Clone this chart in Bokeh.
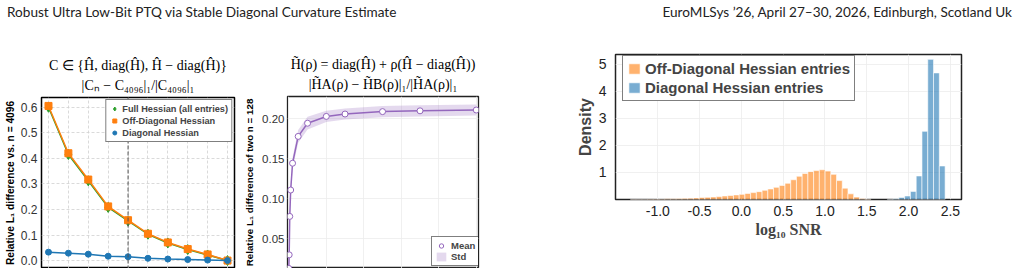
import numpy as np
from bokeh.plotting import figure
from bokeh.models import (Div, Spacer, Range1d, FixedTicker, PrintfTickFormatter,
                          Legend, LegendItem, Title, Span)
from bokeh.layouts import column, row
from bokeh.embed import file_html
from bokeh.resources import INLINE

# ---------------- page header ----------------
HEADER_LEFT = "Robust Ultra Low-Bit PTQ via Stable Diagonal Curvature Estimate"
HEADER_RIGHT = "EuroMLSys ’26, April 27–30, 2026, Edinburgh, Scotland Uk"

# ---------------- chart 1 data ----------------
n_values = [8, 16, 32, 64, 128, 256, 512, 1024, 2048, 4096]
full_hessian = [0.600, 0.415, 0.312, 0.208, 0.155, 0.103, 0.069, 0.043, 0.022, 0.0]
off_diagonal = [0.605, 0.420, 0.317, 0.212, 0.158, 0.105, 0.071, 0.045, 0.024, 0.0]
diagonal = [0.033, 0.029, 0.025, 0.017, 0.015, 0.009, 0.006, 0.004, 0.002, 0.0]
ref_n = 128
c1_yticks = [0.0, 0.1, 0.2, 0.3, 0.4, 0.5, 0.6]
c1_title1 = "C ∈ {Ĥ, diag(Ĥ), Ĥ − diag(Ĥ)}"
c1_title2 = "|Cₙ − C₄₀₉₆|₁/|C₄₀₉₆|₁"
c1_ylabel = "Relative L₁ difference vs. n = 4096"
c1_labels = ["Full Hessian (all entries)", "Off-Diagonal Hessian", "Diagonal Hessian"]

# ---------------- chart 2 data ----------------
rho = [0.0, 0.002, 0.005, 0.01, 0.02, 0.05, 0.1, 0.2, 0.3, 0.5, 0.7, 1.0]
mean_diff = [0.013, 0.030, 0.078, 0.111, 0.1445, 0.178, 0.1945, 0.203, 0.206, 0.209, 0.210, 0.211]
std_diff = [0.004, 0.005, 0.006, 0.006, 0.007, 0.008, 0.008, 0.007, 0.007, 0.007, 0.007, 0.007]
c2_yticks = [0.05, 0.10, 0.15, 0.20]
c2_xticks = [0.0, 0.2, 0.4, 0.6, 0.8, 1.0]
c2_title1 = "H̃(ρ) = diag(Ĥ) + ρ(Ĥ − diag(Ĥ))"
c2_title2 = "|H̃A(ρ) − H̃B(ρ)|₁/|H̃A(ρ)|₁"
c2_ylabel = "Relative L₁ difference of two n = 128"
c2_labels = ["Mean", "Std"]

# ---------------- chart 3 data ----------------
offdiag_bin_start = -1.328
offdiag_bin_width = 0.0685
offdiag_density = [0.008, 0.010, 0.012, 0.015, 0.018, 0.022, 0.026, 0.030, 0.035, 0.042,
                   0.050, 0.060, 0.070, 0.082, 0.095, 0.110, 0.130, 0.150, 0.170, 0.190,
                   0.225, 0.255, 0.290, 0.340, 0.390, 0.450, 0.520, 0.600, 0.730, 0.860,
                   0.960, 1.030, 1.070, 1.100, 1.050, 0.930, 0.700, 0.420, 0.210, 0.090,
                   0.040, 0.015]
diag_bin_start = 1.745
diag_bin_width = 0.0692
diag_density = [0.01, 0.03, 0.07, 0.13, 0.30, 0.87, 2.52, 5.18, 4.68, 1.24]
c3_xticks = [-1.0, -0.5, 0.0, 0.5, 1.0, 1.5, 2.0, 2.5]
c3_yticks = [1, 2, 3, 4, 5]
c3_xlabel = "log₁₀ SNR"
c3_ylabel = "Density"
c3_labels = ["Off-Diagonal Hessian entries", "Diagonal Hessian entries"]

SANS = "Liberation Sans"
SERIF = "Liberation Serif"

header = Div(
    text=('<div style="display:flex;justify-content:space-between;box-sizing:border-box;'
          'width:1019px;font-family:Lato;font-size:13.6px;color:#222;padding:3px 7px 0 7px;">'
          f'<span>{HEADER_LEFT}</span><span>{HEADER_RIGHT}</span></div>'),
    width=1019, height=30, margin=0)


def add_titles(p, t1, t2):
    p.add_layout(Title(text=t2, align="center", text_font=SERIF, text_font_size="14px",
                       text_font_style="normal", text_color="black", standoff=9), "above")
    p.add_layout(Title(text=t1, align="center", text_font=SERIF, text_font_size="14px",
                       text_font_style="normal", text_color="black", standoff=-3), "above")


def style_yaxis(p, standoff, size, label, label_size, label_standoff):
    ax = p.yaxis[0]
    ax.axis_line_color = None
    ax.major_tick_line_color = None
    ax.minor_tick_line_color = None
    ax.major_tick_out = 0
    ax.major_tick_in = 0
    ax.major_label_standoff = standoff
    ax.major_label_text_font = SANS
    ax.major_label_text_font_size = size
    ax.major_label_text_color = "#333333"
    ax.axis_label = label
    ax.axis_label_text_font = SANS
    ax.axis_label_text_font_style = "bold"
    ax.axis_label_text_font_size = label_size
    ax.axis_label_text_color = "black"
    ax.axis_label_standoff = label_standoff


# ================= chart 1 =================
p1 = figure(width=240, height=238, x_axis_type="log", title=None,
            x_range=Range1d(6.27, 5227), y_range=Range1d(-0.031, 0.638),
            output_backend="svg", toolbar_location=None, frame_align=False,
            min_border_left=41, min_border_right=6, min_border_top=67, min_border_bottom=0,
            margin=0, background_fill_color="white", border_fill_color="white")
p1.outline_line_color = "black"
p1.outline_line_width = 1.5
p1.xaxis.visible = False
p1.xaxis.ticker = FixedTicker(ticks=n_values)
p1.xgrid.ticker = FixedTicker(ticks=n_values)
p1.yaxis.ticker = FixedTicker(ticks=c1_yticks)
p1.yaxis.formatter = PrintfTickFormatter(format="%.1f")
style_yaxis(p1, 4, "12px", c1_ylabel, "10.2px", 2)
p1.grid.grid_line_color = "#d0d0d0"
p1.grid.grid_line_dash = "3 2"
p1.grid.grid_line_width = 0.8

p1.add_layout(Span(location=ref_n, dimension="height", line_color="#555555",
                   line_dash="4 2", line_width=1))
p1.line(n_values, full_hessian, color="#2ca02c", line_width=1.5)
r_full = p1.scatter(n_values, full_hessian, marker="diamond", size=10, color="#2ca02c")
p1.line(n_values, off_diagonal, color="#ff7f0e", line_width=1.5)
r_off = p1.scatter(n_values, off_diagonal, marker="square", size=7, color="#ff7f0e")
p1.line(n_values, diagonal, color="#1f77b4", line_width=1.5)
r_diag = p1.scatter(n_values, diagonal, marker="circle", size=6, color="#1f77b4")

leg1 = Legend(items=[LegendItem(label=c1_labels[0], renderers=[r_full]),
                     LegendItem(label=c1_labels[1], renderers=[r_off]),
                     LegendItem(label=c1_labels[2], renderers=[r_diag])],
              location="top_right", margin=2, padding=3, spacing=1,
              glyph_width=10, glyph_height=11, label_height=11, label_standoff=3,
              label_text_font=SANS, label_text_font_style="bold", label_text_font_size="9.2px",
              border_line_color="black", border_line_width=1.5,
              background_fill_color="white", background_fill_alpha=1)
p1.add_layout(leg1)
add_titles(p1, c1_title1, c1_title2)

# ================= chart 2 =================
lower = [m - s for m, s in zip(mean_diff, std_diff)]
upper = [m + s for m, s in zip(mean_diff, std_diff)]
p2 = figure(width=245, height=238, title=None,
            x_range=Range1d(-0.007, 1.012), y_range=Range1d(0.0129, 0.2279),
            output_backend="svg", toolbar_location=None, frame_align=False,
            min_border_left=47, min_border_right=7, min_border_top=66, min_border_bottom=0,
            margin=0, background_fill_color="white", border_fill_color="white")
p2.outline_line_color = "#222222"
p2.outline_line_width = 1.3
p2.xaxis.visible = False
p2.xaxis.ticker = FixedTicker(ticks=c2_xticks)
p2.xgrid.ticker = FixedTicker(ticks=c2_xticks)
p2.yaxis.ticker = FixedTicker(ticks=c2_yticks)
p2.yaxis.formatter = PrintfTickFormatter(format="%.2f")
style_yaxis(p2, 3, "11.5px", c2_ylabel, "9.8px", 4)
p2.grid.grid_line_color = "#ececec"
p2.grid.grid_line_width = 0.8

r_std = p2.varea(x=rho, y1=lower, y2=upper, fill_color="#9467bd", fill_alpha=0.25)
p2.line(rho, mean_diff, color="#9467bd", line_width=1.5)
r_mean = p2.scatter(rho, mean_diff, marker="circle", size=6, fill_color="white",
                    line_color="#9467bd", line_width=1)
leg2 = Legend(items=[LegendItem(label=c2_labels[0], renderers=[r_mean]),
                     LegendItem(label=c2_labels[1], renderers=[r_std])],
              location=(144, 2), padding=3, spacing=0,
              glyph_width=12, glyph_height=11, label_height=11, label_standoff=4,
              label_text_font=SANS, label_text_font_style="bold", label_text_font_size="9.5px",
              border_line_color="black", border_line_width=1.3,
              background_fill_color="white", background_fill_alpha=1)
p2.add_layout(leg2)
add_titles(p2, c2_title1, c2_title2)

# ================= chart 3 =================
off_edges = offdiag_bin_start + offdiag_bin_width * np.arange(len(offdiag_density) + 1)
diag_edges = diag_bin_start + diag_bin_width * np.arange(len(diag_density) + 1)

p3 = figure(width=449, height=238, title=None,
            x_range=Range1d(-1.506, 2.633), y_range=Range1d(0, 5.36),
            output_backend="svg", toolbar_location=None, frame_align=False,
            min_border_left=45, min_border_right=58, min_border_top=24, min_border_bottom=69,
            margin=0, background_fill_color="white", border_fill_color="white")
p3.outline_line_color = "#222222"
p3.outline_line_width = 1.5
r_o = p3.quad(left=off_edges[:-1], right=off_edges[1:], bottom=0, top=offdiag_density,
              fill_color="#ff7f0e", fill_alpha=0.6, line_color="white", line_width=0.6)
r_b = p3.quad(left=diag_edges[:-1], right=diag_edges[1:], bottom=0, top=diag_density,
              fill_color="#1f77b4", fill_alpha=0.6, line_color="white", line_width=0.6)
for ax in (p3.xaxis[0], p3.yaxis[0]):
    ax.axis_line_color = None
    ax.major_tick_line_color = None
    ax.minor_tick_line_color = None
    ax.major_tick_out = 0
    ax.major_tick_in = 0
    ax.major_label_text_font = SANS
    ax.major_label_text_font_size = "14px"
    ax.major_label_text_color = "#222222"
p3.xaxis.ticker = FixedTicker(ticks=c3_xticks)
p3.xaxis.formatter = PrintfTickFormatter(format="%.1f")
p3.yaxis.ticker = FixedTicker(ticks=c3_yticks)
p3.xaxis.major_label_standoff = 6
p3.yaxis.major_label_standoff = 9
p3.xaxis.axis_label = c3_xlabel
p3.xaxis.axis_label_text_font = SERIF
p3.xaxis.axis_label_text_font_style = "bold"
p3.xaxis.axis_label_text_font_size = "16px"
p3.xaxis.axis_label_standoff = 2
p3.yaxis.axis_label = c3_ylabel
p3.yaxis.axis_label_text_font = SANS
p3.yaxis.axis_label_text_font_style = "bold"
p3.yaxis.axis_label_text_font_size = "16px"
p3.yaxis.axis_label_standoff = 2
p3.grid.grid_line_color = "#ececec"
p3.grid.grid_line_width = 0.8

leg3 = Legend(items=[LegendItem(label=c3_labels[0], renderers=[r_o]),
                     LegendItem(label=c3_labels[1], renderers=[r_b])],
              location=(7, 98), padding=4, spacing=2,
              glyph_width=14, glyph_height=13, label_height=16, label_standoff=4,
              label_text_font=SANS, label_text_font_style="bold", label_text_font_size="15px",
              border_line_color="black", border_line_width=1.5,
              background_fill_color="white", background_fill_alpha=1)
p3.add_layout(leg3)

layout = column(header, row(p1, p2, Spacer(width=85, height=238), p3, spacing=0), spacing=0)
open("out.html", "w").write(file_html(layout, INLINE))
